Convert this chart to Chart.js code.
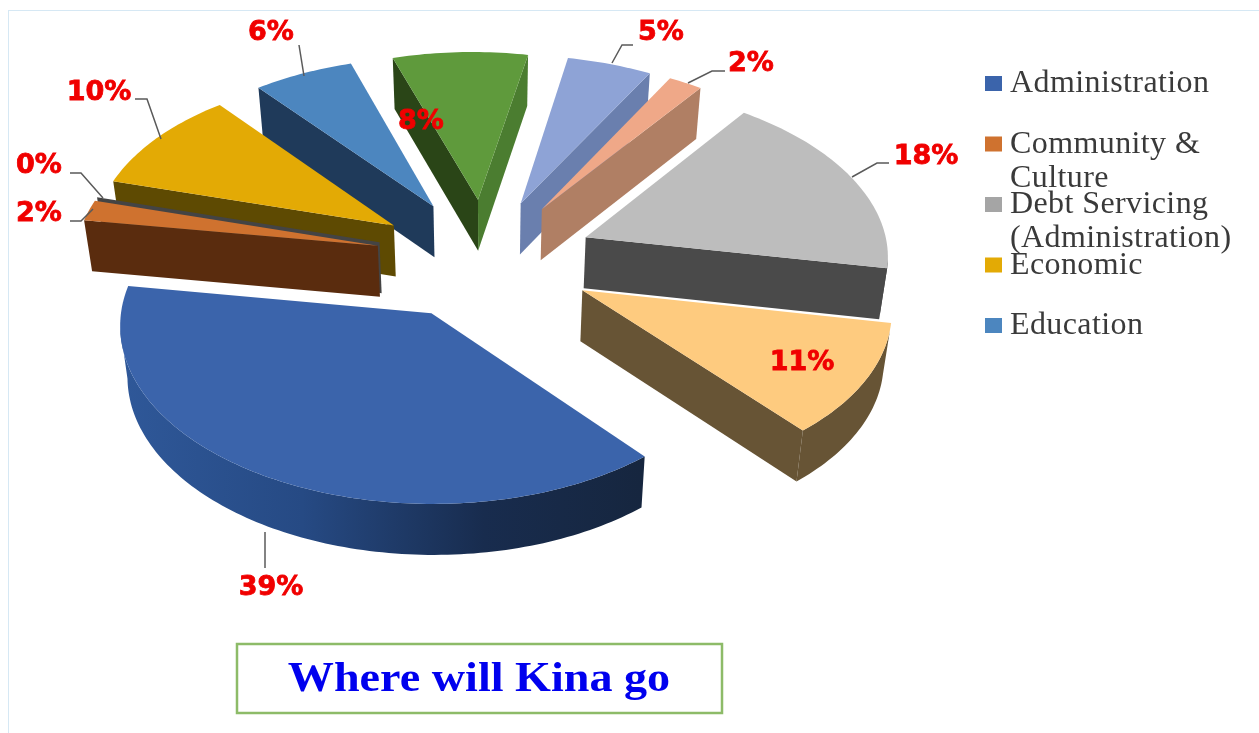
<!DOCTYPE html>
<html>
<head>
<meta charset="utf-8">
<title>Where will Kina go</title>
<script src="https://cdn.jsdelivr.net/npm/chart.js@4"></script>
<style>
    html, body { margin: 0; padding: 0; background: #fff; }
    #wrap { position: relative; width: 1259px; height: 733px; overflow: hidden; }
    #frame { position: absolute; left: 8px; top: 10px; right: 0; bottom: 0; border-left: 1px solid #d6e8f4; border-top: 1px solid #d6e8f4; }
    canvas { position: absolute; left: 0; top: 0; }
</style>
</head>
<body>
<div id="wrap">
    <div id="frame"></div>
    <canvas id="myChart" width="1259" height="733"></canvas>
</div>
<script>
// budget shares, in percent
var shares = [39, 2, 0, 10, 6, 8, 5, 2, 18, 11];

// only these five are listed in the key
var categories = [
    ['Administration'],
    ['Community &', 'Culture'],
    ['Debt Servicing', '(Administration)'],
    ['Economic'],
    ['Education']
];

var chartTitle = 'Where will Kina go';

var topColors = ['#3b64ab', '#cf722f', '#a5a5a5', '#e3aa05', '#4c86bf', '#5f9a3c', '#8ea3d6', '#efa888', '#bdbdbd', '#fecb7f'];
var wallColors = ['#1a2d50', '#5a2c0e', '#444444', '#5e4a02', '#1f3a5a', '#2a4517', '#6a7fae', '#b07f64', '#4a4a4a', '#675435'];
var endWallColors = ['#1a2d50', '#5a2c0e', '#444444', '#5e4a02', '#1f3a5a', '#4b7d30', '#6a7fae', '#b07f64', '#4a4a4a', '#675435'];

// label centres and their leader lines, in canvas pixels
var labelSpots = [[271, 588], [39, 214], [39, 166], [99, 93], [271, 33], [421, 122], [661, 33], [751, 64], [926, 157], [802, 363]];
var leaders = [
    [[265, 532], [265, 568]],
    [[70, 221], [81, 221], [93, 209]],
    [[70, 173], [81, 173], [103, 198]],
    [[135, 99], [147, 99], [161, 139]],
    [[299, 45], [304, 76]],
    null,
    [[633, 45], [622, 45], [612, 63]],
    [[725, 71], [712, 71], [688, 83]],
    [[889, 163], [877, 163], [852, 177]],
    null
];

// tilt of the pie: vertical squash, perspective strength, sideways lean, wall height, wall taper
var squash = 0.553, perspective = 0.00025, lean = 0.02, wallHeight = 51, taper = 0.98;

function project(arc, u, v) {
    var s = 1 / (1 - perspective * v);
    return { x: arc.x + u * s + lean * v, y: arc.y + squash * v * s };
}

function drop(arc, p) {
    return { x: arc.x + (p.x - arc.x) * taper, y: p.y + wallHeight };
}

function tracePoly(ctx, pts) {
    ctx.beginPath();
    ctx.moveTo(pts[0].x, pts[0].y);
    for (var i = 1; i < pts.length; i++) ctx.lineTo(pts[i].x, pts[i].y);
    ctx.closePath();
}

// paints a wall only when it faces the viewer
function fillWall(ctx, pts, fill) {
    var area = 0;
    for (var i = 0; i < pts.length; i++) {
        var p = pts[i], q = pts[(i + 1) % pts.length];
        area += p.x * q.y - q.x * p.y;
    }
    if (area < 0) return;
    tracePoly(ctx, pts);
    ctx.fillStyle = fill;
    ctx.fill();
}

function sliceOutline(arc) {
    var mid = (arc.startAngle + arc.endAngle) / 2;
    var shift = arc.options.offset / 4;
    var ou = Math.cos(mid) * shift, ov = Math.sin(mid) * shift;
    var pts = [];
    var steps = Math.max(2, Math.ceil((arc.endAngle - arc.startAngle) / 0.02));
    for (var i = 0; i <= steps; i++) {
        var a = arc.startAngle + (arc.endAngle - arc.startAngle) * i / steps;
        pts.push(project(arc, ou + Math.cos(a) * arc.outerRadius, ov + Math.sin(a) * arc.outerRadius));
    }
    return { apex: project(arc, ou, ov), rim: pts };
}

function drawSlice(ctx, arc, index) {
    var o = sliceOutline(arc);
    var apexLow = drop(arc, o.apex);
    var rim = o.rim;
    var first = rim[0], last = rim[rim.length - 1];

    // side walls meeting at the point of the slice
    fillWall(ctx, [first, o.apex, apexLow, drop(arc, first)], wallColors[index]);
    fillWall(ctx, [o.apex, last, drop(arc, last), apexLow], endWallColors[index]);

    // curved outer wall; the big front slice gets a sweep of shading
    var curve = wallColors[index];
    if (index === 0) {
        curve = ctx.createLinearGradient(120, 0, 640, 0);
        curve.addColorStop(0, '#2f5899');
        curve.addColorStop(0.35, '#264a84');
        curve.addColorStop(0.7, '#182c4e');
        curve.addColorStop(1, '#16263f');
    }
    var front = rim.filter(function (p, i) {
        return (i > 0 && rim[i - 1].x > p.x) || (i < rim.length - 1 && p.x > rim[i + 1].x);
    });
    if (front.length > 1) {
        var low = front.map(function (p) { return drop(arc, p); }).reverse();
        tracePoly(ctx, front.concat(low));
        ctx.fillStyle = curve;
        ctx.fill();
    }

    tracePoly(ctx, [o.apex].concat(rim));
    ctx.fillStyle = topColors[index];
    ctx.fill();
}

var pie3d = {
    id: 'pie3d',
    // the arcs keep their angles and radius from the controller, only the painting changes
    beforeDatasetDraw: function (chart, args) {
        var ctx = chart.ctx;
        var arcs = args.meta.data;
        var order = arcs.map(function (arc, i) { return i; });
        order.sort(function (a, b) {
            var ma = (arcs[a].startAngle + arcs[a].endAngle) / 2;
            var mb = (arcs[b].startAngle + arcs[b].endAngle) / 2;
            return Math.sin(ma) - Math.sin(mb);
        });
        ctx.save();
        order.forEach(function (i) { drawSlice(ctx, arcs[i], i); });
        ctx.restore();
        return false;
    },
    afterDraw: function (chart) {
        var ctx = chart.ctx;
        ctx.save();

        // leader lines
        ctx.strokeStyle = '#5a5a5a';
        ctx.lineWidth = 1.5;
        leaders.forEach(function (line) {
            if (!line) return;
            ctx.beginPath();
            line.forEach(function (p, i) {
                if (i === 0) ctx.moveTo(p[0], p[1]); else ctx.lineTo(p[0], p[1]);
            });
            ctx.stroke();
        });

        // percent labels
        ctx.fillStyle = '#f00000';
        ctx.strokeStyle = '#f00000';
        ctx.lineWidth = 0.8;
        ctx.font = 'bold 27px "DejaVu Sans"';
        ctx.textAlign = 'center';
        ctx.textBaseline = 'middle';
        shares.forEach(function (v, i) {
            ctx.fillText(v + '%', labelSpots[i][0], labelSpots[i][1]);
            ctx.strokeText(v + '%', labelSpots[i][0], labelSpots[i][1]);
        });

        // key
        ctx.textAlign = 'left';
        ctx.textBaseline = 'alphabetic';
        ctx.font = '32px "Liberation Serif"';
        ctx.letterSpacing = '0.4px';
        categories.forEach(function (lines, i) {
            var top = 76 + i * 60.5;
            ctx.fillStyle = topColors[i];
            ctx.fillRect(985, top, 17, 15);
            ctx.fillStyle = '#3a3a3a';
            lines.forEach(function (line, n) {
                ctx.fillText(line, 1010, top + 16 + n * 34);
            });
        });
        ctx.letterSpacing = '0px';

        // title box
        ctx.strokeStyle = '#8dbb68';
        ctx.lineWidth = 2.5;
        ctx.strokeRect(237, 644, 485, 69);
        ctx.fillStyle = '#0000ee';
        ctx.font = 'bold 43px "Liberation Serif"';
        ctx.textAlign = 'center';
        ctx.translate(479, 691);
        ctx.scale(1.073, 1);
        ctx.fillText(chartTitle, 0, 0);
        ctx.restore();
    }
};

var ctx = document.getElementById('myChart').getContext('2d');
var chart = new Chart(ctx, {
    type: 'pie',
    data: {
        labels: categories.map(function (c) { return c.join(' '); }),
        datasets: [{
            data: shares,
            backgroundColor: topColors,
            offset: 440,
            borderWidth: 0
        }]
    },
    options: {
        responsive: false,
        animation: false,
        events: [],
        rotation: 140,
        radius: 303,
        layout: { padding: { right: 289, bottom: 215 } },
        plugins: {
            legend: { display: false },
            tooltip: { enabled: false }
        }
    },
    plugins: [pie3d]
});
</script>
</body>
</html>
